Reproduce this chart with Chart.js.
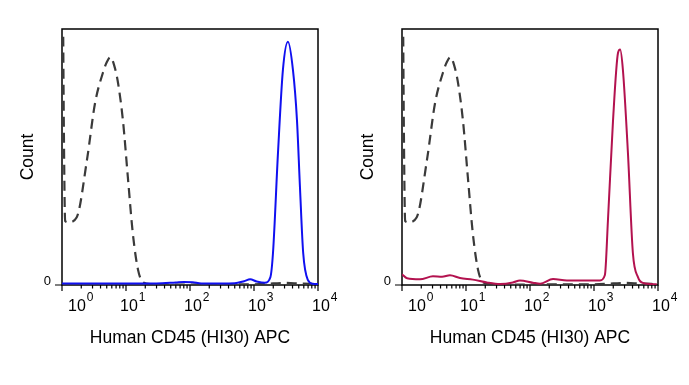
<!DOCTYPE html>
<html>
<head>
<meta charset="utf-8">
<script src="https://cdn.jsdelivr.net/npm/chart.js@4.4.1/dist/chart.umd.min.js"></script>
<style>
    body { margin: 0; background: #fff; }
    #wrap { position: relative; width: 689px; height: 385px; }
    canvas { position: absolute; top: 0; }
</style>
</head>
<body>
<div id="wrap">
    <canvas id="leftPlot" width="340" height="385" style="left:0"></canvas>
    <canvas id="rightPlot" width="340" height="385" style="left:340px"></canvas>
</div>
<script>
// isotype control (dashed), same in both panels
const isoX = [1.045, 1.07, 1.12, 1.25, 1.7, 2.46, 3.28, 4.37, 5.0, 5.7, 6.5, 7.5, 8.98, 10.7, 12.8, 15.4, 18.5, 25, 40, 100, 300, 1000, 2000, 3000, 5000, 10000];
const isoCounts = [97, 60, 25, 24.5, 26.5, 49, 71, 83, 87, 89, 86, 79, 64, 42, 20, 6, 1, 0.3, 0.2, 0.2, 0.3, 0.3, 0.6, 0.8, 0.6, 0.3];

// left panel, stained (blue)
const blueX = [1, 3, 10, 30, 60, 80, 110, 150, 300, 500, 700, 870, 1100, 1480, 1800, 1980, 2370, 2830, 3390, 4060, 4690, 5230, 5870, 6940, 8300, 10000];
const blueCounts = [0.6, 0.6, 0.6, 0.6, 1.0, 1.2, 1.1, 0.6, 0.6, 0.7, 1.5, 2.2, 1.4, 0.9, 3, 12.5, 51.6, 84, 95, 84, 64.5, 38, 12.5, 2, 0.5, 0.4];

// right panel, stained (crimson)
const redX = [1, 1.2, 1.91, 3.05, 4.22, 5.62, 8.06, 12.8, 21.2, 34, 54, 69.6, 111, 144, 229, 378, 777, 1240, 1480, 1650, 1980, 2370, 2560, 2830, 3390, 4050, 4880, 5850, 9570];
const redCounts = [4.2, 2.6, 2.2, 3.4, 3.2, 3.8, 2.7, 2.1, 1.0, 0.4, 1.0, 1.8, 0.9, 0.5, 2.3, 1.8, 1.8, 1.8, 3.9, 25, 64, 90.6, 92, 84, 51.6, 12.5, 3, 0.8, 0.3];

const decadeTicks = [1, 10, 100, 1000, 10000];
const decadeExponents = ['0', '1', '2', '3', '4'];
const xTitle = 'Human CD45 (HI30) APC';
const yTitle = 'Count';

const font = "'Liberation Sans', Arial, sans-serif";

function toPoints(xs, ys) {
    return xs.map((x, i) => ({ x: x, y: ys[i] }));
}

const flowAxes = {
    id: 'flowAxes',
    beforeDatasetsDraw(chart) {
        const ctx = chart.ctx;
        const a = chart.chartArea;
        const xs = chart.scales.x;
        const ys = chart.scales.y;
        const y0 = ys.getPixelForValue(0);
        ctx.save();
        ctx.strokeStyle = '#000';
        ctx.lineWidth = 1.5;
        ctx.strokeRect(a.left, a.top, a.right - a.left, a.bottom - a.top);

        // log ticks
        ctx.lineWidth = 1.2;
        ctx.beginPath();
        for (let d = 0; d < 4; d++) {
            for (let m = 1; m <= 9; m++) {
                const px = xs.getPixelForValue(m * Math.pow(10, d));
                const len = m === 1 ? 6 : 3.5;
                ctx.moveTo(px, a.bottom);
                ctx.lineTo(px, a.bottom + len);
            }
        }
        const pxEnd = xs.getPixelForValue(10000);
        ctx.moveTo(pxEnd, a.bottom);
        ctx.lineTo(pxEnd, a.bottom + 6);
        ctx.moveTo(a.left - 7, y0);
        ctx.lineTo(a.left, y0);
        ctx.stroke();

        // decade labels
        ctx.fillStyle = '#000';
        ctx.textBaseline = 'alphabetic';
        ctx.textAlign = 'left';
        decadeTicks.forEach((v, i) => {
            const px = xs.getPixelForValue(v);
            const left = i === 0 ? px + 6 : px - 6;
            ctx.font = '16px ' + font;
            ctx.fillText('10', left, a.bottom + 26);
            const w = ctx.measureText('10').width;
            ctx.font = '12px ' + font;
            ctx.fillText(decadeExponents[i], left + w + 1, a.bottom + 16);
        });

        ctx.font = '13px ' + font;
        ctx.textAlign = 'right';
        ctx.fillText('0', a.left - 11, y0);

        ctx.font = '17.5px ' + font;
        ctx.textAlign = 'center';
        ctx.fillText(xTitle, (a.left + a.right) / 2, a.bottom + 58);

        ctx.translate(33, (a.top + a.bottom) / 2);
        ctx.rotate(-Math.PI / 2);
        ctx.fillText(yTitle, 0, 0);
        ctx.restore();
    }
};

function makeChart(canvasId, solidX, solidCounts, solidColor) {
    const ctx = document.getElementById(canvasId).getContext('2d');
    return new Chart(ctx, {
        type: 'line',
        data: {
            datasets: [{
                label: 'Stained',
                data: toPoints(solidX, solidCounts),
                borderColor: solidColor,
                borderWidth: 2,
                pointRadius: 0,
                cubicInterpolationMode: 'monotone',
                fill: false
            }, {
                label: 'Isotype',
                data: toPoints(isoX, isoCounts),
                borderColor: '#3a3a3a',
                borderWidth: 2.2,
                borderDash: [10, 6],
                pointRadius: 0,
                cubicInterpolationMode: 'monotone',
                fill: false
            }]
        },
        options: {
            responsive: false,
            animation: false,
            layout: {
                padding: { left: 62, right: 22, top: 29, bottom: 100 }
            },
            plugins: {
                legend: { display: false },
                tooltip: { enabled: false }
            },
            scales: {
                x: { type: 'logarithmic', min: 1, max: 10000, display: false },
                y: { type: 'linear', min: 0, max: 100, display: false }
            }
        },
        plugins: [flowAxes]
    });
}

makeChart('leftPlot', blueX, blueCounts, '#1010f0');
makeChart('rightPlot', redX, redCounts, '#b3124f');
</script>
</body>
</html>
